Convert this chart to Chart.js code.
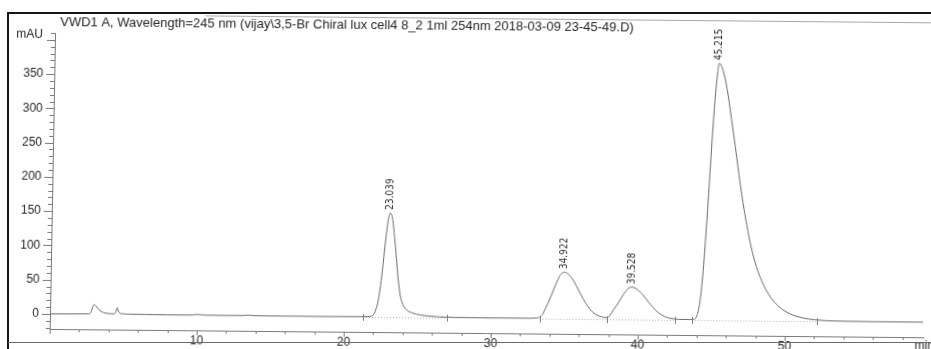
<!DOCTYPE html>
<html>
<head>
<meta charset="utf-8">
<script src="https://cdn.jsdelivr.net/npm/chart.js@4/dist/chart.umd.min.js"></script>
<style>
  html, body { margin: 0; padding: 0; background: #fff; }
  body { position: relative; width: 931px; height: 349px; overflow: hidden; }
  /* printed plot sits slightly askew on the page */
  #plot {
    position: absolute; left: 0; top: 0; width: 940px; height: 349px;
    transform-origin: 50px 314px;
    transform: matrix(1, 0.0095, -0.018, 1, 0, 0);
  }
  .rule { position: absolute; }
  #ruleLeft { left: 7px; top: 12px; width: 2px; height: 337px; background: #151515; }
  #ruleTop { left: 7px; top: 12px; width: 924px; height: 2px; background: #151515; }
  #ruleBottom { left: 8px; top: 342px; width: 923px; height: 1px; background: #6a6a6a; }
</style>
</head>
<body>
<canvas id="plot" width="940" height="349"></canvas>
<div class="rule" id="ruleLeft"></div>
<div class="rule" id="ruleTop"></div>
<div class="rule" id="ruleBottom"></div>
<script>
// Detector trace: retention time (min) and absorbance (mAU)
const times = [
  0, 1.5, 2.6, 2.75, 2.85, 2.95, 3.02, 3.12, 3.25, 3.4, 3.55, 3.75, 4.0, 4.3,
  4.45, 4.52, 4.57, 4.63, 4.72, 4.9, 5.4, 6.5, 8.0, 9.6, 9.9, 10.1, 10.5, 12.0,
  13.2, 13.5, 13.8, 16.0, 19.0, 21.0, 21.6, 21.85, 22.0, 22.15, 22.3, 22.45,
  22.6, 22.75, 22.9, 23.039, 23.2, 23.35, 23.5, 23.65, 23.8, 24.0, 24.3, 24.7,
  25.2, 25.8, 26.5, 27.5, 30.0, 32.5, 33.0, 33.3, 33.5, 33.7, 33.9, 34.1, 34.3,
  34.5, 34.7, 34.922, 35.2, 35.5, 35.8, 36.1, 36.4, 36.7, 37.0, 37.4, 37.9,
  38.1, 38.3, 38.5, 38.7, 38.9, 39.1, 39.3, 39.528, 39.8, 40.1, 40.4, 40.7,
  41.0, 41.3, 41.6, 42.0, 42.5, 43.0, 43.5, 43.7, 43.9, 44.0, 44.1, 44.2, 44.3,
  44.4, 44.5, 44.6, 44.7, 44.8, 44.9, 45.0, 45.1, 45.215, 45.4, 45.6, 45.8,
  46.1, 46.4, 46.7, 47.0, 47.3, 47.6, 48.0, 48.5, 49.0, 49.5, 50.0, 50.6, 51.3,
  52.0, 52.8, 54.0, 56.0, 59.4
];
const signal = [
  0, 0.2, 0.5, 1.5, 7, 13, 14, 12, 8.5, 5.5, 3.5, 2, 1.2, 0.9,
  2.5, 7, 10, 6, 2.5, 1.2, 0.7, 0.4, 0.2, 0.2, 1.0, 1.1, 0.3, 0.1,
  0.3, 1.0, 0.3, 0, 0, 0.2, 0.5, 1.2, 3, 10, 23, 46,
  78, 114, 142, 152, 142, 116, 85, 54, 32, 18, 10, 6,
  3.5, 2, 1, 0.4, 0.2, 0.3, 0.6, 2, 6, 15, 24.5, 35, 46.5,
  57, 65, 68, 65.5, 58, 47, 35, 24, 15, 8.5, 4, 2,
  6, 13, 19, 26, 33.5, 40, 45, 47, 45.5, 40.5, 33.5, 25.5,
  18, 11.5, 7, 3.2, 1.2, 0.6, 0.5, 0.8, 2, 6, 14, 28, 50,
  80, 118, 160, 205, 252, 295, 330, 356, 375, 370, 356, 336,
  296, 255, 212, 172, 138, 108, 78, 52, 34, 22, 14, 8, 4,
  2, 0.8, 0.3, 0, 0
];

// Integrated peaks and their printed retention times
const peakTimes = [23.039, 34.922, 39.528, 45.215];
const peakLabels = ['23.039', '34.922', '39.528', '45.215'];

// Integration events (baseline start/stop marks)
const eventTimes = [21.3, 27.0, 33.3, 37.9, 42.5, 43.7, 52.2];
const baselineSpans = [[21.3, 27.0], [33.3, 37.9], [37.9, 42.5], [43.7, 52.2]];

// Axis ticks
const yTickValues = [0, 50, 100, 150, 200, 250, 300, 350];
const xTickValues = [10, 20, 30, 40, 50];

const titleText = 'VWD1 A, Wavelength=245 nm (vijay\\3,5-Br Chiral lux cell4 8_2 1ml 254nm 2018-03-09 23-45-49.D)';
const yUnit = 'mAU';
const xUnit = 'min';

const inkText = '#262626';
const inkAxis = '#7a7a7a';
const inkTrace = '#6a6a6a';
const sans = '"Liberation Sans", Arial, sans-serif';
const narrow = '"Liberation Sans Narrow", "DejaVu Sans Condensed", "Liberation Sans", sans-serif';

const chartDecor = {
  id: 'chartDecor',
  afterDatasetsDraw(chart) {
    const { ctx, chartArea: a, scales: { x, y } } = chart;
    const y0 = y.getPixelForValue(0);
    ctx.save();

    // integration baselines and event marks
    ctx.strokeStyle = '#b0b0b0';
    ctx.lineWidth = 1;
    ctx.setLineDash([1, 2]);
    baselineSpans.forEach(([s, e]) => {
      ctx.beginPath();
      ctx.moveTo(x.getPixelForValue(s), Math.round(y0) + 0.5);
      ctx.lineTo(x.getPixelForValue(e), Math.round(y0) + 0.5);
      ctx.stroke();
    });
    ctx.setLineDash([]);
    ctx.strokeStyle = '#808080';
    eventTimes.forEach(t => {
      const px = Math.round(x.getPixelForValue(t)) + 0.5;
      ctx.beginPath();
      ctx.moveTo(px, y0 - 3);
      ctx.lineTo(px, y0 + 4);
      ctx.stroke();
    });

    // axis lines
    ctx.strokeStyle = inkAxis;
    ctx.beginPath();
    ctx.moveTo(a.left + 0.5, a.top);
    ctx.lineTo(a.left + 0.5, a.bottom + 0.5);
    ctx.lineTo(x.getPixelForValue(59.5), a.bottom + 0.5);
    ctx.stroke();

    // y ticks: minor every 10, major every 50
    for (let v = -20; v <= 410; v += 10) {
      const py = Math.round(y.getPixelForValue(v)) + 0.5;
      const len = v % 50 === 0 ? 8 : 4;
      ctx.beginPath();
      ctx.moveTo(a.left - len, py);
      ctx.lineTo(a.left, py);
      ctx.stroke();
    }
    // x ticks: minor every 2 min
    for (let t = 0; t <= 58; t += 2) {
      const px = Math.round(x.getPixelForValue(t)) + 0.5;
      const len = t % 10 === 0 ? 5 : 3;
      ctx.beginPath();
      ctx.moveTo(px, a.bottom);
      ctx.lineTo(px, a.bottom + len);
      ctx.stroke();
    }

    // tick labels
    ctx.fillStyle = inkText;
    ctx.font = '12px ' + sans;
    ctx.textAlign = 'right';
    ctx.textBaseline = 'middle';
    yTickValues.forEach(v => ctx.fillText(String(v), a.left - 11, y.getPixelForValue(v)));
    ctx.fillText(yUnit, a.left - 12, 35);
    ctx.textAlign = 'center';
    xTickValues.forEach(t => ctx.fillText(String(t), x.getPixelForValue(t), a.bottom + 11));
    ctx.textAlign = 'left';
    ctx.fillText(xUnit, 915, a.bottom + 9);

    // header line
    ctx.font = '13px ' + sans;
    ctx.fillText(titleText, 55, 22);
    ctx.strokeStyle = '#a8a8a8';
    ctx.beginPath();
    ctx.moveTo(200, 14.5);
    ctx.lineTo(940, 14.5);
    ctx.stroke();

    // retention time labels above each apex
    ctx.font = '10px ' + narrow;
    ctx.fillStyle = inkText;
    ctx.textAlign = 'left';
    ctx.textBaseline = 'middle';
    peakTimes.forEach((t, i) => {
      const idx = times.indexOf(t);
      const px = x.getPixelForValue(t);
      const py = y.getPixelForValue(signal[idx]);
      ctx.save();
      ctx.translate(px, py - 3);
      ctx.rotate(-Math.PI / 2);
      ctx.fillText(peakLabels[i], 0, 0);
      ctx.restore();
    });

    ctx.restore();
  }
};

new Chart(document.getElementById('plot'), {
  type: 'line',
  data: {
    datasets: [{
      data: times.map((t, i) => ({ x: t, y: signal[i] })),
      borderColor: inkTrace,
      borderWidth: 1,
      pointRadius: 0,
      fill: false,
      cubicInterpolationMode: 'monotone'
    }]
  },
  options: {
    responsive: false,
    animation: false,
    events: [],
    layout: { padding: { left: 50, right: 8, top: 33, bottom: 20 } },
    plugins: { legend: { display: false }, tooltip: { enabled: false }, title: { display: false } },
    scales: {
      x: { type: 'linear', min: 0, max: 60, display: false },
      y: { type: 'linear', min: -22, max: 410, display: false }
    }
  },
  plugins: [chartDecor]
});
</script>
</body>
</html>
